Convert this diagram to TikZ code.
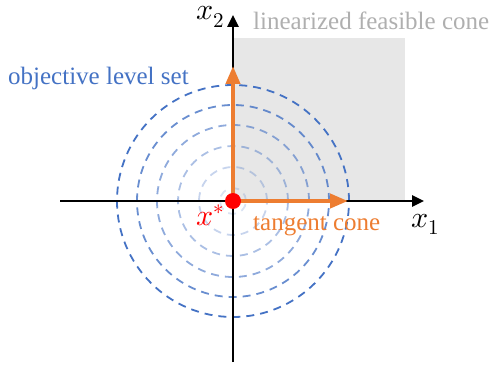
\documentclass[tikz,border=0pt]{standalone}
\usepackage{fontspec}
\usepackage{unicode-math}
\setmainfont{Liberation Serif}
\setmathfont{Latin Modern Math}
\usetikzlibrary{arrows.meta, positioning}
\definecolor{levelblue}{RGB}{68,114,196}
\definecolor{coneorange}{RGB}{237,125,49}
\definecolor{conegray}{RGB}{231,231,231}
\definecolor{labelgray}{RGB}{175,175,175}
\definecolor{optred}{RGB}{255,0,0}

\begin{document}
\begin{tikzpicture}[x=1pt, y=1pt,
  axis/.style={-{Triangle[length=12pt, width=11pt]}, line width=2.5pt, draw=black},
  tangent/.style={-{Triangle[length=18pt, width=14pt]}, line width=4pt, draw=coneorange},
  level/.style={dash pattern=on 8pt off 6pt, line width=1.8pt, draw=levelblue},
  lbl/.style={font=\fontsize{25}{30}\selectfont, inner sep=0pt, anchor=base west},
  mathlbl/.style={font=\fontsize{30}{36}\selectfont, inner sep=0pt, anchor=base west}
]
  \useasboundingbox (0,0) rectangle (495,370);

  % Optimum and axis ends
  \coordinate (opt)    at (233,169);
  \coordinate (xleft)  at (60,169);
  \coordinate (xright) at (424,169);
  \coordinate (ybot)   at (233,8);
  \coordinate (ytop)   at (233,355);
  \coordinate (tcup)   at (233,304);
  \coordinate (tcright) at (348,169);

  % Linearized feasible cone
  \fill[conegray] (opt) rectangle (405,332);

  % Level sets
  \draw[level]                   (opt) circle (116);
  \draw[level, draw opacity=0.8] (opt) circle (96);
  \draw[level, draw opacity=0.6] (opt) circle (76);
  \draw[level, draw opacity=0.45] (opt) circle (55);
  \draw[level, draw opacity=0.3] (opt) circle (34);
  \draw[level, draw opacity=0.2] (opt) circle (13);

  % Axes
  \draw[axis] (xleft) -- (xright);
  \draw[axis] (ybot) -- (ytop);

  % Tangent cone
  \draw[tangent] (opt) -- (tcup);
  \draw[tangent] (opt) -- (tcright);
  \fill[optred] (opt) circle (8);

  % Labels
  \node[mathlbl] (x2)     at (196,350) {$x_2$};
  \node[mathlbl] (x1)     at (411,143) {$x_1$};
  \node[mathlbl, text=optred] (xstar) at (196,145) {$x^*$};
  \node[lbl, text=labelgray]  (feas)  at (253,340) {linearized feasible cone};
  \node[lbl, text=levelblue]  (level) at (8,285)   {objective level set};
  \node[lbl, text=coneorange] (tang)  at (253,140) {tangent cone};

\end{tikzpicture}
\end{document}
